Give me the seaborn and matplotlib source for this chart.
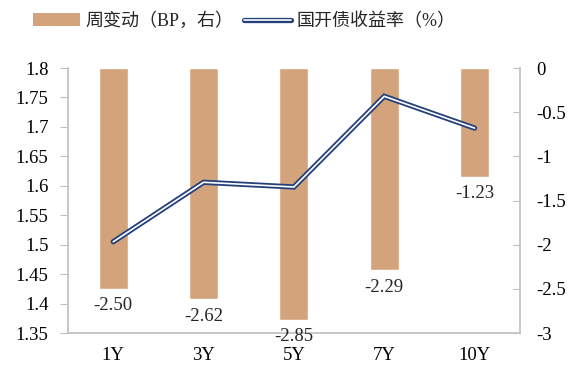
import matplotlib
matplotlib.use("Agg")
import matplotlib.pyplot as plt
import seaborn as sns
import pandas as pd
from matplotlib.lines import Line2D
from matplotlib.patches import Patch
from matplotlib.ticker import FixedLocator

tenors = ["1Y", "3Y", "5Y", "7Y", "10Y"]
weekly_change_bp = [-2.50, -2.62, -2.85, -2.29, -1.23]
yield_pct = [1.505, 1.606, 1.598, 1.752, 1.698]

bar_color = "#D3A47C"
line_color = "#24407A"
axis_gray = "#BFBFBF"

sns.set_style("white")
plt.rcParams["font.family"] = ["Liberation Serif", "Noto Sans CJK SC"]

df = pd.DataFrame({"tenor": tenors, "change": weekly_change_bp, "yield": yield_pct})

fig = plt.figure(figsize=(5.82, 3.78), dpi=100)
ax = fig.add_axes([0.117, 0.119, 0.776, 0.701])

# bars on the right axis
sns.barplot(data=df, x="tenor", y="change", color=bar_color, width=0.32,
            saturation=1, ax=ax)
ax.set_ylim(-3, 0)
for i, v in enumerate(weekly_change_bp):
    ax.annotate(f"{v:.2f}", (i, v), xytext=(0, -6), textcoords="offset points",
                ha="center", va="top", fontsize=13.5)

# line on the left axis
ax2 = ax.twinx()
sns.lineplot(x=list(range(len(tenors))), y=yield_pct, color=line_color,
             lw=3.8, ax=ax2, solid_joinstyle="miter")
sns.lineplot(x=list(range(len(tenors))), y=yield_pct, color="white",
             lw=1.2, ax=ax2, solid_joinstyle="miter")
ax2.set_ylim(1.35, 1.8)

# swap sides: bars' scale on the right, yields on the left
ax.yaxis.tick_right()
ax2.yaxis.tick_left()
ax.set_yticks([0, -0.5, -1, -1.5, -2, -2.5, -3])
ax.set_yticklabels(["0", "-0.5", "-1", "-1.5", "-2", "-2.5", "-3"])
ax2.set_yticks([1.35, 1.4, 1.45, 1.5, 1.55, 1.6, 1.65, 1.7, 1.75, 1.8])
ax2.set_yticklabels(["1.35", "1.4", "1.45", "1.5", "1.55", "1.6", "1.65", "1.7", "1.75", "1.8"])

for a in (ax, ax2):
    a.set_xlabel("")
    a.set_ylabel("")
    for s in a.spines.values():
        s.set_visible(False)
    a.tick_params(labelsize=13.5, colors="black")

ax.spines["right"].set_visible(True)
ax.spines["bottom"].set_visible(True)
ax2.spines["left"].set_visible(True)
for a, side in ((ax, "right"), (ax, "bottom"), (ax2, "left")):
    a.spines[side].set_color(axis_gray)
    a.spines[side].set_linewidth(1.2)

ax.tick_params(axis="y", direction="in", length=5, color=axis_gray, pad=12)
ax2.tick_params(axis="y", direction="out", length=6, color=axis_gray, pad=8)
ax.tick_params(axis="x", which="major", length=0, pad=10)
ax.xaxis.set_minor_locator(FixedLocator([0.5, 1.5, 2.5, 3.5]))
ax.tick_params(axis="x", which="minor", direction="out", length=5, color=axis_gray)
ax.set_xlim(-0.5, len(tenors) - 0.5)
ax2.set_xlim(-0.5, len(tenors) - 0.5)

handles = [
    Patch(facecolor=bar_color, edgecolor="none"),
    (Line2D([], [], color=line_color, lw=3.8), Line2D([], [], color="white", lw=1.2)),
]
fig.legend(handles, ["周变动（BP，右）", "国开债收益率（%）"], loc="upper center",
           bbox_to_anchor=(0.42, 1.01), ncol=2, frameon=False, fontsize=13,
           handlelength=2.6, columnspacing=0.6, handletextpad=0.3)

fig.savefig("out.png", dpi=100)
